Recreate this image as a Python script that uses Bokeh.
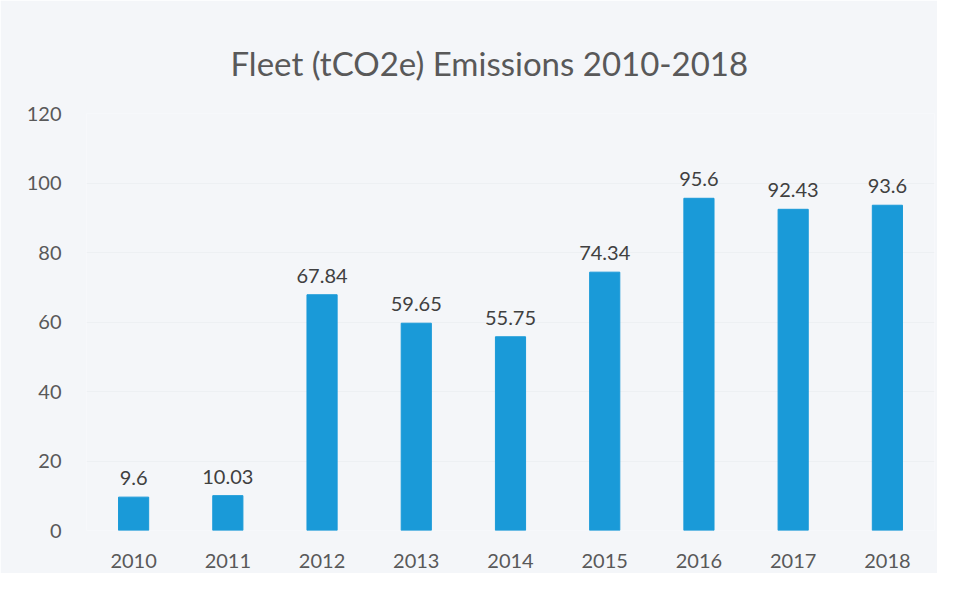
from bokeh.plotting import figure
from bokeh.models import ColumnDataSource, LabelSet, Range1d, FixedTicker
from bokeh.core.properties import value
from bokeh.embed import file_html
from bokeh.resources import INLINE

years = ["2010", "2011", "2012", "2013", "2014", "2015", "2016", "2017", "2018"]
emissions = [9.6, 10.03, 67.84, 59.65, 55.75, 74.34, 95.6, 92.43, 93.6]
labels = ["9.6", "10.03", "67.84", "59.65", "55.75", "74.34", "95.6", "92.43", "93.6"]
y_ticks = [0, 20, 40, 60, 80, 100, 120]

FONT = "Lato"
BG = "#f4f6f9"

src = ColumnDataSource(dict(year=years, val=emissions, lab=labels))

p = figure(x_range=years, y_range=Range1d(0, 120), width=937, height=573,
           output_backend="svg", toolbar_location=None,
           min_border_left=86, min_border_right=3, min_border_bottom=43,
           min_border_top=113,
           background_fill_color=BG, border_fill_color=BG)

p.title.text = "Fleet (tCO2e) Emissions 2010-2018"
p.title.align = "left"
p.title.offset = 144
p.title.text_font = FONT
p.title.text_font_size = "33px"
p.title.text_font_style = "normal"
p.title.text_color = "#595959"
p.title.standoff = 62

p.vbar(x="year", top="val", width=0.32, source=src, color="#1a9ad8")

p.add_layout(LabelSet(x="year", y="val", text="lab", source=src,
                      text_align="center", text_baseline="bottom", y_offset=12,
                      text_font=value(FONT), text_font_size=value("20px"),
                      text_color="#404040"))

p.yaxis.ticker = FixedTicker(ticks=y_ticks)
for ax in (p.xaxis, p.yaxis):
    ax.axis_line_color = None
    ax.major_tick_line_color = None
    ax.minor_tick_line_color = None
    ax.major_label_text_font = FONT
    ax.major_label_text_font_size = "20px"
    ax.major_label_text_color = "#595959"
p.yaxis.major_label_standoff = 19
p.xaxis.major_label_standoff = 17

p.xgrid.grid_line_color = None
p.ygrid.grid_line_color = "#edf0f3"
p.outline_line_color = None

open("out.html", "w").write(file_html(p, INLINE))
